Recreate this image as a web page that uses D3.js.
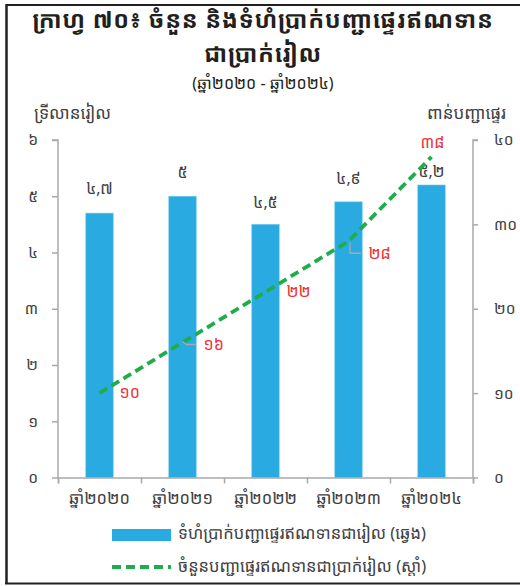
<!DOCTYPE html>
<html>
<head>
<meta charset="utf-8">
<script src="https://cdn.jsdelivr.net/npm/d3@7"></script>
<style>
  html, body { margin: 0; padding: 0; background: #fff; }
  svg { display: block; }
  text { font-family: "Khmer OS", "Khmer OS System", "Noto Sans Khmer", "Noto Serif Khmer", "Khmer OS Battambang", "Hanuman", "Khmer UI", "DejaVu Sans", sans-serif; }
</style>
</head>
<body>
<script>
const categories = ["ឆ្នាំ២០២០", "ឆ្នាំ២០២១", "ឆ្នាំ២០២២", "ឆ្នាំ២០២៣", "ឆ្នាំ២០២៤"];
const barValues = [4.7, 5.0, 4.5, 4.9, 5.2];
const barLabels = ["៤,៧", "៥", "៤,៥", "៤,៩", "៥,២"];
const lineValues = [10, 16, 22, 28, 38];
const lineLabels = ["១០", "១៦", "២២", "២៨", "៣៨"];
const leftTicks = [0, 1, 2, 3, 4, 5, 6];
const leftTickLabels = ["០", "១", "២", "៣", "៤", "៥", "៦"];
const rightTicks = [0, 10, 20, 30, 40];
const rightTickLabels = ["០", "១០", "២០", "៣០", "៤០"];
const titleLines = ["ក្រាហ្វ ៧០៖ ចំនួន និងទំហំប្រាក់បញ្ជាផ្ទេរឥណទាន", "ជាប្រាក់រៀល"];
const subtitle = "(ឆ្នាំ២០២០ - ឆ្នាំ២០២៤)";
const leftAxisTitle = "ទ្រីលានរៀល";
const rightAxisTitle = "ពាន់បញ្ជាផ្ទេរ";
const legendLabels = ["ទំហំប្រាក់បញ្ជាផ្ទេរឥណទានជារៀល (ឆ្វេង)", "ចំនួនបញ្ជាផ្ទេរឥណទានជាប្រាក់រៀល (ស្តាំ)"];

const W = 520, H = 586;
const svg = d3.select("body").append("svg").attr("width", W).attr("height", H);

// frame
svg.append("line").attr("x1", 6.5).attr("x2", 520).attr("y1", 5).attr("y2", 5).attr("stroke", "#231f20").attr("stroke-width", 2);
svg.append("line").attr("x1", 6.5).attr("x2", 6.5).attr("y1", 4).attr("y2", 584).attr("stroke", "#231f20").attr("stroke-width", 2.5);
svg.append("line").attr("x1", 5).attr("x2", 520).attr("y1", 583.5).attr("y2", 583.5).attr("stroke", "#231f20").attr("stroke-width", 2);

// title
const tcol = "#231f20";
svg.append("text").attr("x", 263).attr("y", 28).attr("text-anchor", "middle")
  .attr("font-size", 23.5).attr("font-weight", "bold").attr("letter-spacing", 0.7).attr("fill", tcol).text(titleLines[0]);
svg.append("text").attr("x", 263).attr("y", 62).attr("text-anchor", "middle")
  .attr("font-size", 23.5).attr("font-weight", "bold").attr("letter-spacing", 0.7).attr("fill", tcol).text(titleLines[1]);
svg.append("text").attr("x", 263).attr("y", 89).attr("text-anchor", "middle")
  .attr("font-size", 16).attr("fill", tcol).text(subtitle);

const x0 = 58, x1 = 473, y0 = 477.5, yTop = 140;
const x = d3.scaleBand().domain(categories).range([x0, x1]).paddingInner(0.67).paddingOuter(0.335);
const yL = d3.scaleLinear().domain([0, 6]).range([y0, yTop]);
const yR = d3.scaleLinear().domain([0, 40]).range([y0, yTop]);
const cx = d => x(d) + x.bandwidth() / 2;

const axisColor = "#a7a9ac";
const textColor = "#414042";

// left axis
const gL = svg.append("g").attr("transform", `translate(${x0},0)`)
  .call(d3.axisLeft(yL).tickValues(leftTicks).tickSize(6).tickPadding(14).tickFormat((d, i) => leftTickLabels[i]));
// right axis
const gR = svg.append("g").attr("transform", `translate(${x1},0)`)
  .call(d3.axisRight(yR).tickValues(rightTicks).tickSize(5).tickPadding(16).tickFormat((d, i) => rightTickLabels[i]));
// bottom axis
const xb = d3.scaleLinear().domain([0, 5]).range([x0, x1]);
const gB = svg.append("g").attr("transform", `translate(0,${y0})`)
  .call(d3.axisBottom(xb).tickValues([0,1,2,3,4,5]).tickSize(6).tickFormat(""));
[gL, gR, gB].forEach(g => {
  g.select(".domain").attr("stroke", axisColor).attr("stroke-width", 1.5);
  g.selectAll(".tick line").attr("stroke", axisColor).attr("stroke-width", 1.5);
  g.selectAll(".tick text").attr("fill", textColor).attr("font-size", 15.5).attr("font-family", null);
});
gL.select(".domain").attr("d", `M-6,${yTop}H0V${y0}`);
gR.select(".domain").attr("d", `M5,${yTop}H0V${y0}`);

// category labels
svg.append("g").selectAll("text").data(categories).join("text")
  .attr("x", d => cx(d)).attr("y", 504).attr("text-anchor", "middle")
  .attr("font-size", 16.5).attr("fill", textColor).text(d => d);

// axis titles
svg.append("text").attr("x", 34).attr("y", 119).attr("font-size", 17).attr("fill", textColor).text(leftAxisTitle);
svg.append("text").attr("x", 506).attr("y", 119).attr("text-anchor", "end").attr("font-size", 17).attr("fill", textColor).text(rightAxisTitle);

// bars
const barColor = "#29abe2";
svg.append("g").selectAll("rect").data(barValues).join("rect")
  .attr("x", (d, i) => x(categories[i])).attr("width", x.bandwidth())
  .attr("y", d => yL(d)).attr("height", d => y0 - yL(d))
  .attr("fill", barColor).attr("stroke", "#6cc6ec").attr("stroke-width", 0.6);

const barLabOff = [-19, -18, -16, -18, -8];
svg.append("g").selectAll("text").data(barValues).join("text")
  .attr("x", (d, i) => cx(categories[i])).attr("y", (d, i) => yL(d) + barLabOff[i])
  .attr("text-anchor", "middle").attr("font-size", 16).attr("fill", textColor)
  .text((d, i) => barLabels[i]);

// line
const lineColor = "#1fad4b";
const line = d3.line().x((d, i) => cx(categories[i])).y(d => yR(d));
svg.append("path").datum(lineValues).attr("d", line)
  .attr("fill", "none").attr("stroke", lineColor).attr("stroke-width", 3.8)
  .attr("stroke-dasharray", "9,5");

// line labels with offsets (start x, baseline y relative to point)
const labOff = [[20, 5], [21, 7], [21, 5], [20, 18], [1, -9]];
const red = "#ed3237";
svg.append("g").selectAll("text").data(lineValues).join("text")
  .attr("x", (d, i) => cx(categories[i]) + labOff[i][0])
  .attr("y", (d, i) => yR(d) + labOff[i][1])
  .attr("text-anchor", (d, i) => i === 4 ? "middle" : "start")
  .attr("font-size", 16).attr("fill", red)
  .text((d, i) => lineLabels[i]);

// leader lines
const ldr = d3.line();
const p1 = [cx(categories[1]), yR(lineValues[1])];
svg.append("path").attr("d", ldr([[p1[0], p1[1] - 1], [p1[0] + 4, p1[1] + 2], [p1[0] + 13, p1[1] + 2]]))
  .attr("fill", "none").attr("stroke", axisColor).attr("stroke-width", 1.3);
const p3 = [cx(categories[3]), yR(lineValues[3])];
svg.append("path").attr("d", ldr([[p3[0] + 1.5, p3[1] + 1], [p3[0] + 1.5, p3[1] + 12], [p3[0] + 12.5, p3[1] + 12]]))
  .attr("fill", "none").attr("stroke", axisColor).attr("stroke-width", 1.3);

// legend
svg.append("rect").attr("x", 112).attr("y", 529).attr("width", 59).attr("height", 12).attr("fill", barColor);
svg.append("text").attr("x", 178).attr("y", 539).attr("font-size", 16.5).attr("fill", textColor).text(legendLabels[0]);
svg.append("line").attr("x1", 112).attr("x2", 171).attr("y1", 567).attr("y2", 567)
  .attr("stroke", lineColor).attr("stroke-width", 3.8).attr("stroke-dasharray", "9,5");
svg.append("text").attr("x", 178).attr("y", 572).attr("font-size", 16.5).attr("fill", textColor).text(legendLabels[1]);
</script>
</body>
</html>
